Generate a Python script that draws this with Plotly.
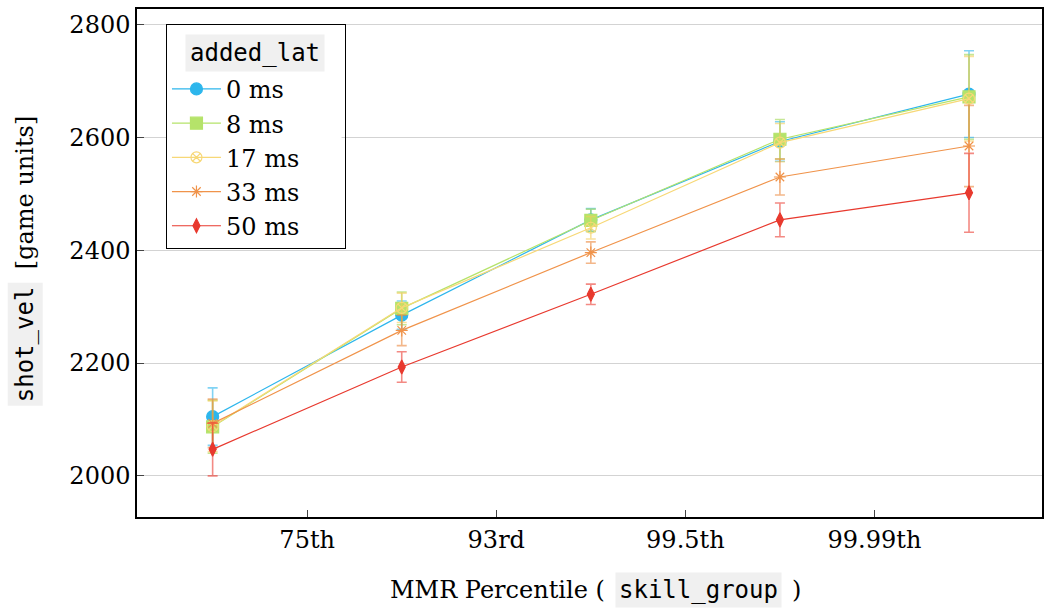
import plotly.graph_objects as go

# ---- data ----
x_pos = [0, 1, 2, 3, 4]
tick_vals = [0.5, 1.5, 2.5, 3.5]
tick_text = ["75th", "93rd", "99.5th", "99.99th"]

series_names = ["0 ms", "8 ms", "17 ms", "33 ms", "50 ms"]
lat0 = [2105, 2285, 2454, 2593, 2677]
lat8 = [2087, 2297, 2453, 2597, 2672]
lat17 = [2088, 2298, 2440, 2591, 2669]
lat33 = [2093, 2258, 2396, 2530, 2585]
lat50 = [2047, 2193, 2322, 2454, 2502]

err0 = [51, 25, 20, 35, 77]
err8 = [47, 29, 20, 35, 75]
err17 = [45, 26, 20, 34, 75]
err33 = [43, 27, 19, 32, 72]
err50 = [47, 27, 18, 30, 70]

means = [lat0, lat8, lat17, lat33, lat50]
errs = [err0, err8, err17, err33, err50]

colors = ["#2db6ec", "#b5e36a", "#f7d877", "#f0934a", "#e8392e"]
err_colors = ["rgba(45,182,236,0.6)", "rgba(160,215,80,0.6)", "rgba(245,205,90,0.6)",
              "rgba(235,135,60,0.6)", "rgba(235,60,50,0.6)"]
symbols = ["circle", "square", "circle-x-open", "asterisk-open", "diamond-tall"]
sizes = [12, 12, 11, 10, 10]

SERIF = "DejaVu Serif"
MONO = "DejaVu Sans Mono"

fig = go.Figure()
for name, y, e, c, ec, s, sz in zip(series_names, means, errs, colors, err_colors, symbols, sizes):
    fig.add_trace(go.Scatter(
        x=x_pos, y=y, name=name, mode="lines+markers",
        line=dict(color=c, width=1.2),
        marker=dict(symbol=s, size=sz, color=c, line=dict(color=c, width=1.2)),
        error_y=dict(type="data", array=e, visible=True, color=ec, thickness=1.6, width=5),
    ))

fig.update_layout(
    width=1044, height=610,
    margin=dict(l=137, r=0, t=9, b=93),
    plot_bgcolor="white", paper_bgcolor="white",
    font=dict(family=SERIF, size=24, color="black"),
    showlegend=True,
    legend=dict(
        x=0.032, y=0.97, xanchor="left", yanchor="top",
        bgcolor="rgba(0,0,0,0)", bordercolor="black", borderwidth=1,
        font=dict(family=SERIF, size=24),
        title=dict(text="\u00a0" * 9, font=dict(family=MONO, size=32)),
        itemwidth=49,
        tracegroupgap=0,
    ),
)

fig.update_xaxes(
    range=[-0.4, 4.386], tickmode="array", tickvals=tick_vals, ticktext=tick_text,
    ticks="inside", ticklen=7, tickcolor="#444", showgrid=False, zeroline=False,
    showline=True, linecolor="black", linewidth=1.5, mirror=True,
    tickfont=dict(family=SERIF, size=24),
)
fig.update_yaxes(
    range=[1927, 2828], tickvals=[2000, 2200, 2400, 2600, 2800],
    ticks="inside", ticklen=7, tickcolor="#444", showgrid=True, gridcolor="#d3d3d3",
    gridwidth=1, zeroline=False, showline=True, linecolor="black", linewidth=1.5, mirror=True,
    tickfont=dict(family=SERIF, size=24),
)

# white fill behind legend (legend itself is transparent)
fig.add_shape(type="rect", xref="paper", yref="paper", layer="above",
              x0=0.033, x1=0.226, y0=0.53, y1=0.968,
              fillcolor="white", line=dict(width=0))

# legend title with grey background
fig.add_annotation(text="added_lat", xref="paper", yref="paper", x=0.130, y=0.913,
                   showarrow=False, font=dict(family=MONO, size=24, color="black"),
                   bgcolor="#f0f0f0", borderpad=4, xanchor="center", yanchor="middle")

# x-axis title
fig.add_annotation(text="MMR Percentile (", xref="paper", yref="paper", x=(608 - 137) / 907, y=-0.1437,
                   showarrow=False, font=dict(family=SERIF, size=24), xanchor="right", yanchor="middle")
fig.add_annotation(text="skill_group", xref="paper", yref="paper", x=(700 - 137) / 907, y=-0.1437,
                   showarrow=False, font=dict(family=MONO, size=24), bgcolor="#f0f0f0", borderpad=3,
                   xanchor="center", yanchor="middle")
fig.add_annotation(text=")", xref="paper", yref="paper", x=(791 - 137) / 907, y=-0.1437,
                   showarrow=False, font=dict(family=SERIF, size=24), xanchor="left", yanchor="middle")

# y-axis title
fig.add_annotation(text="shot_vel", xref="paper", yref="paper", x=(25 - 137) / 907, y=(517 - 344) / 508,
                   showarrow=False, textangle=-90, font=dict(family=MONO, size=24),
                   bgcolor="#f0f0f0", borderpad=3, xanchor="center", yanchor="middle")
fig.add_annotation(text="[game units]", xref="paper", yref="paper", x=(25 - 137) / 907, y=(517 - 192) / 508,
                   showarrow=False, textangle=-90, font=dict(family=SERIF, size=24),
                   xanchor="center", yanchor="middle")

fig.write_html("out.html")
